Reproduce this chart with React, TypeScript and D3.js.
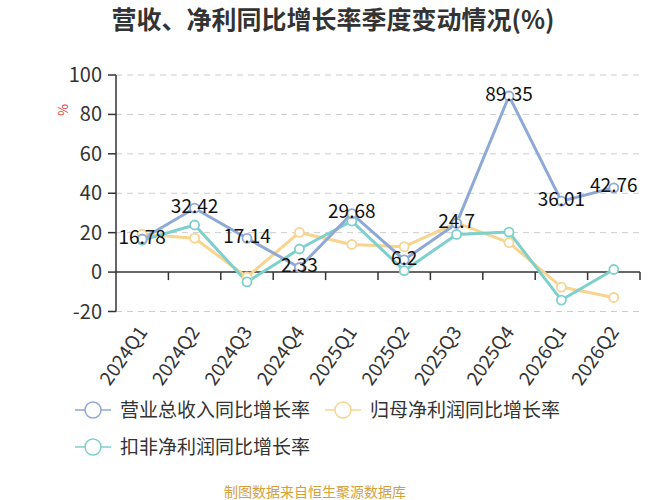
import React from 'react';
import * as d3 from 'd3';

// quarters on the x axis
const quarters = ['2024Q1', '2024Q2', '2024Q3', '2024Q4', '2025Q1', '2025Q2', '2025Q3', '2025Q4', '2026Q1', '2026Q2'];

// yoy growth rates (%)
const revenueGrowth = [16.78, 32.42, 17.14, 2.33, 29.68, 6.2, 24.7, 89.35, 36.01, 42.76];
const netProfitGrowth = [19.2, 17.2, -2.5, 20.1, 14.0, 12.9, 25.0, 14.9, -7.6, -12.9];
const deductedProfitGrowth = [16.2, 23.9, -5.0, 11.7, 25.9, 0.7, 19.1, 20.3, -14.2, 1.3];

const yTicks = [-20, 0, 20, 40, 60, 80, 100];

const seriesNames = ['营业总收入同比增长率', '归母净利润同比增长率', '扣非净利润同比增长率'];
const seriesColors = ['#8FA9D6', '#F7D48F', '#7DD0CB'];

const W = 667;
const H = 500;
const FONT = '"Noto Sans CJK SC", "Noto Sans", sans-serif';

const App: React.FC = () => {
  const x = d3.scaleBand<string>().domain(quarters).range([116, 640]);
  const y = d3.scaleLinear().domain([-20, 100]).range([311.5, 75]);
  const cx = (q: string) => (x(q) || 0) + x.bandwidth() / 2;

  const line = d3.line<number>()
    .x((_, i) => cx(quarters[i]))
    .y((d) => y(d));

  const allSeries = [revenueGrowth, netProfitGrowth, deductedProfitGrowth];
  // draw order: yellow under, teal, blue on top
  const drawOrder = [1, 2, 0];

  const legendItems = [
    { idx: 0, x: 93, y: 410 },
    { idx: 1, x: 343, y: 410 },
    { idx: 2, x: 93, y: 447 },
  ];

  return (
    <svg width={W} height={H} style={{ display: 'block', position: 'absolute', left: 0, top: 0, background: '#fff' }} fontFamily={FONT}>
      <rect x={0} y={0} width={W} height={H} fill="#fff" />
      <text x={333} y={29} textAnchor="middle" fontSize={25} fontWeight="bold" fill="#333">
        营收、净利同比增长率季度变动情况(%)
      </text>

      {/* grid */}
      {yTicks.filter((t) => t !== 0).map((t) => (
        <line key={t} x1={116} x2={640} y1={y(t)} y2={y(t)} stroke="#cccccc" strokeWidth={1} strokeDasharray="6,5" />
      ))}

      {/* y axis */}
      <line x1={116} x2={116} y1={y(100)} y2={y(-20)} stroke="#333" strokeWidth={1.5} />
      {yTicks.map((t) => (
        <g key={t}>
          <line x1={108} x2={116} y1={y(t)} y2={y(t)} stroke="#333" strokeWidth={1.5} />
          <text x={102} y={y(t)} dy="0.35em" textAnchor="end" fontSize={20} fill="#333">{t}</text>
        </g>
      ))}
      <text transform={`translate(68,110) rotate(-90)`} textAnchor="middle" fontSize={13} fill="#e03030">%</text>

      {/* x axis on zero */}
      <line x1={116} x2={640} y1={y(0)} y2={y(0)} stroke="#333" strokeWidth={1.5} />
      {quarters.map((q) => (
        <line key={q} x1={(x(q) || 0) + x.bandwidth()} x2={(x(q) || 0) + x.bandwidth()} y1={y(0)} y2={y(0) + 8} stroke="#333" strokeWidth={1.5} />
      ))}
      {quarters.map((q) => (
        <text key={q} transform={`translate(${cx(q) + 6},${332}) rotate(-55)`} textAnchor="end" fontSize={19} fill="#333">{q}</text>
      ))}

      {/* lines */}
      {drawOrder.map((si) => (
        <path key={si} d={line(allSeries[si]) || ''} fill="none" stroke={seriesColors[si]} strokeWidth={3} strokeLinejoin="round" />
      ))}
      {drawOrder.map((si) => (
        <g key={`p${si}`}>
          {allSeries[si].map((v, i) => (
            <circle key={i} cx={cx(quarters[i])} cy={y(v)} r={4.5} fill="#fff" stroke={seriesColors[si]} strokeWidth={1.8} />
          ))}
        </g>
      ))}

      {/* data labels for revenue */}
      {revenueGrowth.map((v, i) => (
        <text key={i} x={cx(quarters[i])} y={y(v) - 2} dy="0.35em" textAnchor="middle" fontSize={19} fill="#111">{v}</text>
      ))}

      {/* legend */}
      {legendItems.map((it) => (
        <g key={it.idx}>
          <line x1={it.x - 18} x2={it.x + 18} y1={it.y} y2={it.y} stroke={seriesColors[it.idx]} strokeWidth={1.5} />
          <circle cx={it.x} cy={it.y} r={8} fill="#fff" stroke={seriesColors[it.idx]} strokeWidth={1.5} />
          <text x={it.x + 27} y={it.y} dy="0.35em" fontSize={19} fill="#333">{seriesNames[it.idx]}</text>
        </g>
      ))}

      <text x={315} y={492} dy="0.35em" textAnchor="middle" fontSize={14} fill="#D4A03A">制图数据来自恒生聚源数据库</text>
    </svg>
  );
};

export default App;
